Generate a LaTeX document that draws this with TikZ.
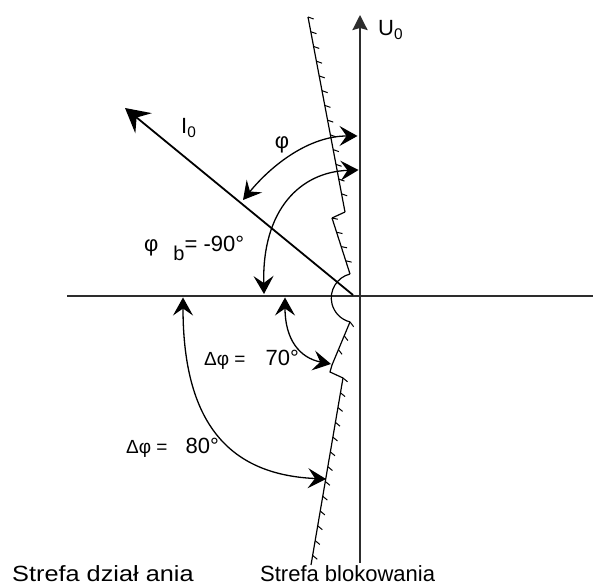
\documentclass[tikz,border=0pt]{standalone}
\usepackage{fontspec}
\setmainfont{Liberation Sans}
\usetikzlibrary{arrows.meta,decorations.pathreplacing}
\definecolor{axisgray}{RGB}{45,45,45}
\begin{document}
\begin{tikzpicture}[x=1pt,y=1pt,
  axisline/.style={line width=2.4pt, draw=axisgray},
  bound/.style={line width=1.2pt, postaction={decorate, draw, line width=1pt,
     decoration={border, segment length=15pt, amplitude=6pt, angle=60}}},
  plainline/.style={line width=1.2pt},
  anglearc/.style={line width=1.3pt,
     {Stealth[length=18pt,width=20pt,inset=7pt]}-{Stealth[length=18pt,width=20pt,inset=7pt]}},
  lab/.style={font=\fontsize{22}{26}\selectfont, inner sep=0pt},
  smalllab/.style={font=\fontsize{19}{23}\selectfont, inner sep=0pt}
]
\useasboundingbox (0,0) rectangle (593,585);
% axes
\coordinate (Hl) at (67,289);
\coordinate (Hr) at (593,289);
\coordinate (Ubot) at (360,22);
\coordinate (Utop) at (360,570);
\draw[axisline] (Hl) -- (Hr);
\draw[axisline, -{Stealth[length=15pt,width=15pt,inset=2pt]}] (Ubot) -- (Utop);
% I0 vector
\coordinate (Is) at (353,290);
\coordinate (It) at (125,477);
\draw[line width=1.8pt, -{Stealth[length=24pt,width=26pt,inset=9pt]}] (Is) -- (It);
% boundary line
\coordinate (H1) at (308,568);
\coordinate (H2) at (345,373);
\coordinate (H3) at (332,367);
\coordinate (H4) at (350,311);
\coordinate (H6) at (332,220);
\coordinate (H7) at (330,213);
\coordinate (H8) at (343,207);
\coordinate (H9) at (311,20);
\draw[bound] (H1) -- (H2);
\draw[plainline] (H2) -- (H3);
\draw[bound] (H3) -- (H4);
\draw[plainline] (H4) arc[start angle=104,end angle=256,radius=24.7] coordinate (H5);
\draw[bound] (H5) -- (H6);
\draw[plainline] (H6) -- (H7) -- (H8);
\draw[bound] (H8) -- (H9);
% angle arcs
\coordinate (phA) at (243,385);
\coordinate (phB) at (357.5,449);
\draw[anglearc] (phA) .. controls (272.8,421.3) and (310,449) .. (phB);
\coordinate (pbA) at (358.5,415);
\coordinate (pbB) at (264,291);
\draw[anglearc] (pbA) .. controls (300,413) and (262,375) .. (pbB);
\coordinate (dsA) at (285,287.5);
\coordinate (dsB) at (331,221);
\draw[anglearc] (dsA) .. controls (285,245) and (300,227) .. (dsB);
\coordinate (deA) at (183,287.5);
\coordinate (deB) at (326,106);
\draw[anglearc] (deA) .. controls (183,155) and (235,110) .. (deB);
% labels
\node[lab, anchor=west] (u0) at (378,555) {U\textsubscript{0}};
\node[lab, anchor=west] (i0) at (181,457) {I\textsubscript{0}};
\node[lab] (phi) at (282,440) {φ};
\node[lab, anchor=west] (phib) at (144,337) {φ\kern15pt\raisebox{-9pt}{\fontsize{20}{24}\selectfont b}= -90°};
\node[anchor=west, inner sep=0pt] (d70) at (204,225) {{\fontsize{19}{23}\selectfont Δφ =}\hspace{20pt}{\fontsize{22}{26}\selectfont 70°}};
\node[anchor=west, inner sep=0pt] (d80) at (126,137) {{\fontsize{19}{23}\selectfont Δφ =}\hspace{18pt}{\fontsize{22}{26}\selectfont 80°}};
\node[lab, anchor=base west] (s1) at (12,4) {\scalebox{1.15}[1]{Strefa dział ania}};
\node[lab, anchor=base west] (s2) at (260,4) {Strefa blokowania};
\end{tikzpicture}
\end{document}
